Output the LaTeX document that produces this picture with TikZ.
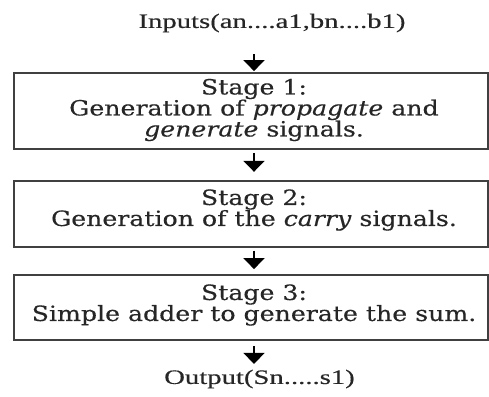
\documentclass[tikz,border=0pt]{standalone}
\usepackage{fontspec}
\setmainfont{Liberation Serif}[FakeStretch=1.4,FakeBold=0.4]
\newfontfamily\stagefont{DejaVu Serif}[FakeStretch=1.2,FakeBold=0.4]
\usetikzlibrary{arrows.meta}
\tikzset{
  stagebox/.style={draw=black!75, line width=1.8pt, minimum width=474pt, inner sep=0pt},
  stagetext/.style={align=center, inner sep=0pt, font=\stagefont\fontsize{21}{21}\selectfont, text=black!85},
  iotext/.style={inner sep=0pt, font=\fontsize{20.5}{22}\selectfont, text=black!85},
  arr/.style={line width=2pt, -{Triangle[width=21pt,length=11pt]}}
}
\begin{document}
\begin{tikzpicture}[x=1pt,y=-1pt]
\useasboundingbox (0,0) rectangle (489,396);
\node[iotext] (in) at (272,23) {Inputs(an....a1,bn....b1)};
\node[stagebox, minimum height=76pt] (b1) at (251,111) {};
\node[stagetext] (t1) at (254,110) {Stage 1:\\Generation of \emph{propagate} and\\\emph{generate} signals.};
\node[stagebox, minimum height=66pt] (b2) at (251,213.7) {};
\node[stagetext] (t2) at (254,210) {Stage 2:\\Generation of the \emph{carry} signals.};
\node[stagebox, minimum height=65pt] (b3) at (251,307.5) {};
\node[stagetext] (t3) at (254,305) {Stage 3:\\Simple adder to generate the sum.};
\node[iotext] (out) at (259.5,379) {Output(Sn.....s1)};
\draw[arr] ([yshift=18pt]b1.north -| t1) -- ([yshift=1pt]b1.north -| t1);
\draw[arr] ([yshift=-3pt]b1.south -| t1) -- ([yshift=8pt]b2.north -| t1);
\draw[arr] ([yshift=-3pt]b2.south -| t1) -- ([yshift=5pt]b3.north -| t1);
\draw[arr] ([yshift=-5pt]b3.south -| t1) -- ([yshift=-23pt]b3.south -| t1);
\end{tikzpicture}
\end{document}
